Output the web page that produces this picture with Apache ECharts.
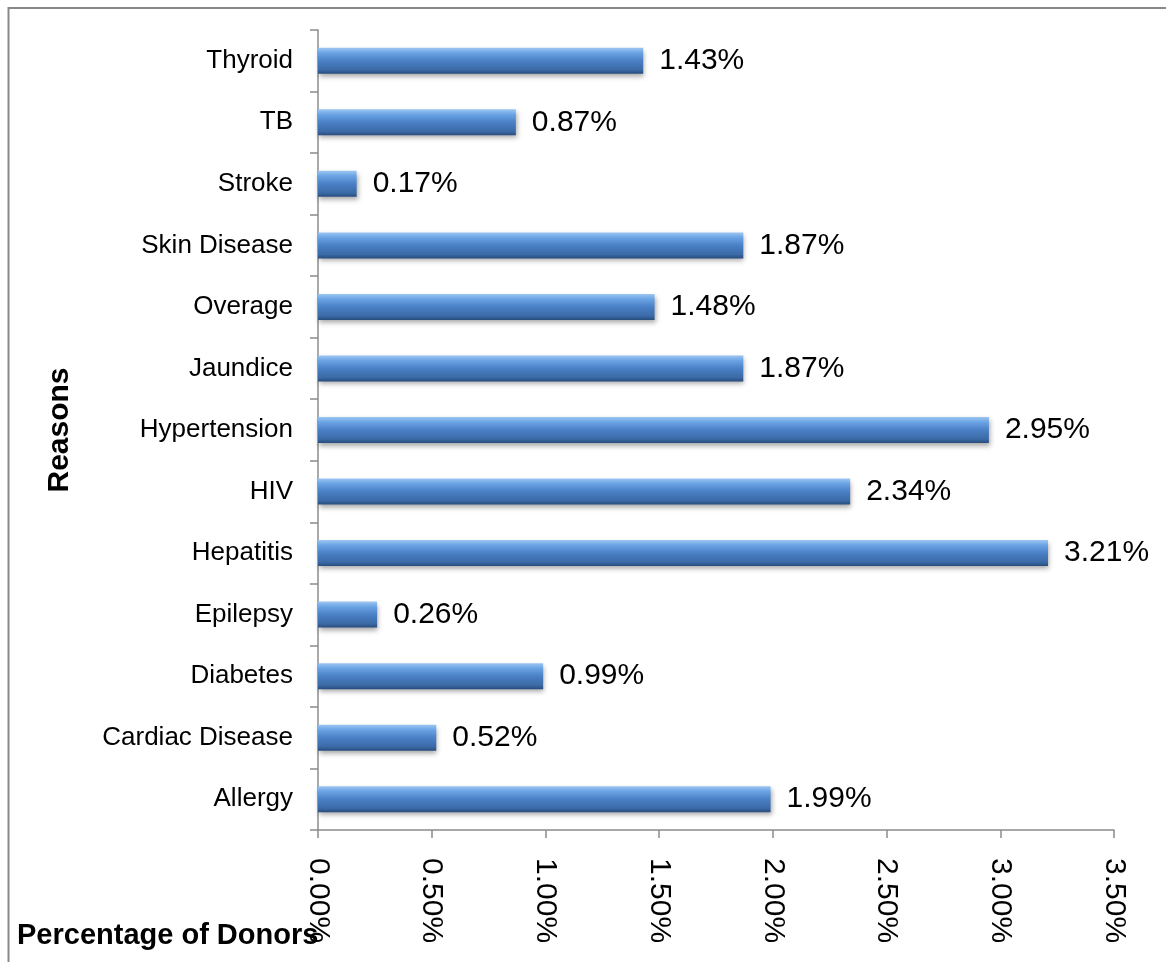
<!DOCTYPE html>
<html>
<head>
<meta charset="utf-8">
<script src="https://cdn.jsdelivr.net/npm/echarts@6/dist/echarts.min.js"></script>
<style>
html,body{margin:0;padding:0;background:#fff;}
#chart{width:1166px;height:962px;}
</style>
</head>
<body>
<div id="chart"></div>
<script>
const categories = ['Allergy','Cardiac Disease','Diabetes','Epilepsy','Hepatitis','HIV','Hypertension','Jaundice','Overage','Skin Disease','Stroke','TB','Thyroid'];
const values = [1.99, 0.52, 0.99, 0.26, 3.21, 2.34, 2.95, 1.87, 1.48, 1.87, 0.17, 0.87, 1.43];
const xTicks = [0, 0.5, 1.0, 1.5, 2.0, 2.5, 3.0, 3.5];
const yTitle = 'Reasons';
const xTitle = 'Percentage of Donors';

const FONT = '"Liberation Sans", Arial, Helvetica, sans-serif';
const chart = echarts.init(document.getElementById('chart'), null, {renderer: 'canvas'});

const option = {
  animation: false,
  backgroundColor: '#ffffff',
  grid: {left: 318, right: 52, top: 30, bottom: 132, containLabel: false},
  graphic: [
    {type: 'rect', shape: {x: 8.5, y: 8, width: 1400, height: 1200}, style: {fill: 'none', stroke: '#898989', lineWidth: 2}, silent: true, z: 0},
    {type: 'text', x: 60, y: 430, rotation: Math.PI / 2, style: {text: yTitle, font: 'bold 30px ' + FONT, fill: '#000', align: 'center', verticalAlign: 'middle'}},
    {type: 'text', x: 17, y: 936, style: {text: xTitle, font: 'bold 29px ' + FONT, fill: '#000', align: 'left', verticalAlign: 'middle'}, z: 10}
  ],
  xAxis: {
    type: 'value',
    min: xTicks[0],
    max: xTicks[xTicks.length - 1],
    interval: xTicks[1] - xTicks[0],
    axisLine: {show: true, lineStyle: {color: '#8c8c8c', width: 1.5}},
    axisTick: {show: true, length: 8, lineStyle: {color: '#8c8c8c', width: 1.5}},
    splitLine: {show: false},
    axisLabel: {
      rotate: -90,
      margin: 28,
      color: '#000',
      fontSize: 30,
      fontFamily: FONT,
      formatter: v => v.toFixed(2) + '%'
    }
  },
  yAxis: {
    type: 'category',
    data: categories,
    axisLine: {show: true, lineStyle: {color: '#8c8c8c', width: 1.5}},
    axisTick: {show: true, length: 8, alignWithLabel: false, lineStyle: {color: '#8c8c8c', width: 1.5}},
    splitLine: {show: false},
    axisLabel: {
      margin: 25,
      color: '#000',
      fontSize: 26,
      fontFamily: FONT
    }
  },
  series: [{
    type: 'bar',
    data: values,
    barWidth: 26,
    itemStyle: {
      color: new echarts.graphic.LinearGradient(0, 0, 0, 1, [
        {offset: 0, color: '#9cc6f2'},
        {offset: 0.2, color: '#6aa3e4'},
        {offset: 0.5, color: '#4a80c6'},
        {offset: 0.85, color: '#3b6aa6'},
        {offset: 1, color: '#284c7c'}
      ]),
      shadowColor: 'rgba(0,0,0,0.35)',
      shadowBlur: 5,
      shadowOffsetY: 3,
      shadowOffsetX: 1
    },
    label: {
      show: true,
      position: 'right',
      distance: 16,
      color: '#000',
      fontSize: 30,
      fontFamily: FONT,
      formatter: p => p.value.toFixed(2) + '%'
    }
  }]
};
chart.setOption(option);
</script>
</body>
</html>
